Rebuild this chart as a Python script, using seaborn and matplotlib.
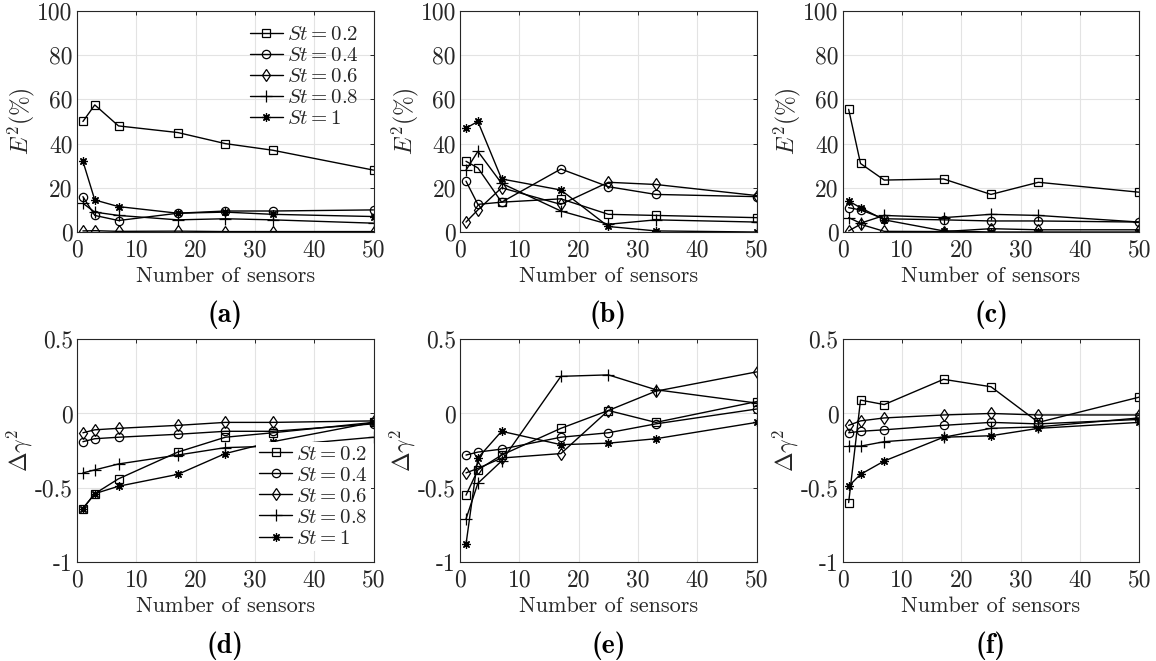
import matplotlib
matplotlib.use("Agg")
import matplotlib.pyplot as plt
import seaborn as sns
from matplotlib.ticker import FuncFormatter

# number of sensors
sensors = [1, 3, 7, 17, 25, 33, 50]
st_labels = ["0.2", "0.4", "0.6", "0.8", "1"]

# E^2 (%) -- panels (a), (b), (c)
e2_a_02 = [50, 57.5, 48, 45, 40, 37, 28]
e2_a_04 = [16, 7.5, 5.2, 8.5, 9.5, 9.5, 10]
e2_a_06 = [0.5, 0.6, 0.3, 0.4, 0.2, 0.2, 0.2]
e2_a_08 = [13, 9, 7.5, 5.5, 6, 5.5, 4]
e2_a_10 = [32, 14.5, 11.5, 8.5, 9, 8, 7]

e2_b_02 = [32, 29, 13.5, 15, 8, 7.5, 6.5]
e2_b_04 = [23, 12.5, 13.5, 28.5, 20.5, 17, 16]
e2_b_06 = [4.5, 10, 20, 12.5, 22.5, 21.5, 16.5]
e2_b_08 = [28, 36.5, 22, 9.5, 3.5, 5.5, 4.5]
e2_b_10 = [47, 50, 24, 19, 2.5, 0.5, 0]

e2_c_02 = [55.5, 31, 23.5, 24, 17, 22.5, 18]
e2_c_04 = [11, 10, 6, 5.5, 5, 5, 4.5]
e2_c_06 = [0.5, 3.5, 0.3, 0.2, 1.5, 1, 1]
e2_c_08 = [6.5, 4, 7.5, 6.5, 8, 7.5, 4.5]
e2_c_10 = [14, 11, 5.5, 0.5, 0, 0, 0]

# delta gamma^2 -- panels (d), (e), (f)
dg_d_02 = [-0.64, -0.54, -0.44, -0.26, -0.16, -0.13, -0.06]
dg_d_04 = [-0.19, -0.17, -0.16, -0.14, -0.12, -0.12, -0.07]
dg_d_06 = [-0.13, -0.11, -0.10, -0.08, -0.06, -0.06, -0.05]
dg_d_08 = [-0.40, -0.38, -0.34, -0.28, -0.23, -0.22, -0.16]
dg_d_10 = [-0.64, -0.54, -0.49, -0.41, -0.27, -0.19, -0.06]

dg_e_02 = [-0.55, -0.38, -0.28, -0.10, 0.02, -0.06, 0.08]
dg_e_04 = [-0.28, -0.26, -0.24, -0.16, -0.13, -0.07, 0.03]
dg_e_06 = [-0.40, -0.37, -0.30, -0.27, 0.02, 0.15, 0.28]
dg_e_08 = [-0.71, -0.47, -0.32, 0.25, 0.26, 0.16, 0.07]
dg_e_10 = [-0.88, -0.30, -0.12, -0.21, -0.20, -0.17, -0.06]

dg_f_02 = [-0.60, 0.09, 0.06, 0.23, 0.18, -0.06, 0.11]
dg_f_04 = [-0.13, -0.12, -0.11, -0.08, -0.06, -0.07, -0.04]
dg_f_06 = [-0.08, -0.05, -0.03, -0.01, 0.0, -0.01, -0.01]
dg_f_08 = [-0.22, -0.22, -0.19, -0.16, -0.10, -0.09, -0.03]
dg_f_10 = [-0.49, -0.41, -0.32, -0.16, -0.15, -0.10, -0.06]

panels = [
    ("(a)", [e2_a_02, e2_a_04, e2_a_06, e2_a_08, e2_a_10]),
    ("(b)", [e2_b_02, e2_b_04, e2_b_06, e2_b_08, e2_b_10]),
    ("(c)", [e2_c_02, e2_c_04, e2_c_06, e2_c_08, e2_c_10]),
    ("(d)", [dg_d_02, dg_d_04, dg_d_06, dg_d_08, dg_d_10]),
    ("(e)", [dg_e_02, dg_e_04, dg_e_06, dg_e_08, dg_e_10]),
    ("(f)", [dg_f_02, dg_f_04, dg_f_06, dg_f_08, dg_f_10]),
]

markers = ["s", "o", "d", "+", (8, 2, 0)]

sns.set_style("white")
plt.rcParams["mathtext.fontset"] = "cm"
plt.rcParams["font.family"] = ["cmr10", "DejaVu Serif"]
plt.rcParams["axes.unicode_minus"] = False

txt = "#262626"
fig = plt.figure(figsize=(11.56, 6.61), dpi=100)

lefts = [0.0666, 0.398, 0.729]
w = 0.2565
rows = [(0.649, 0.3344), (0.1498, 0.337)]

# plain hyphen for negatives, like the original
tick_fmt = FuncFormatter(lambda v, p: f"{v:g}")

for i, (name, series) in enumerate(panels):
    r, c = divmod(i, 3)
    ax = fig.add_axes([lefts[c], rows[r][0], w, rows[r][1]])
    for vals, m, lab in zip(series, markers, st_labels):
        sns.lineplot(x=sensors, y=vals, ax=ax, color="k", lw=1.0,
                     marker=m, markersize=6 if m != "+" else 8,
                     mfc="none", mec="k", mew=0.9,
                     label=rf"$St = {lab}$", legend=False)
    ax.set_xlim(0, 50)
    ax.set_xticks(range(0, 51, 10))
    if r == 0:
        ax.set_ylim(0, 100)
        ax.set_yticks(range(0, 101, 20))
        ax.set_ylabel(r"$E^2(\%)$", fontsize=17, color=txt, labelpad=0)
    else:
        ax.set_ylim(-1, 0.5)
        ax.set_yticks([-1, -0.5, 0, 0.5])
        ax.set_ylabel(r"$\Delta\gamma^2$", fontsize=17, color=txt, labelpad=0)
    ax.xaxis.set_major_formatter(tick_fmt)
    ax.yaxis.set_major_formatter(tick_fmt)
    ax.set_xlabel("Number of sensors", fontsize=16, color=txt, labelpad=4)
    ax.grid(True, color="#e3e3e3", lw=0.8)
    ax.set_axisbelow(True)
    ax.tick_params(direction="in", length=3, width=0.7, colors=txt,
                   labelsize=17, top=True, right=True, pad=5)
    ax.tick_params(axis="y", pad=3)
    for sp in ax.spines.values():
        sp.set_color(txt)
        sp.set_linewidth(0.8)
    ax.text(0.5, -0.375, name, transform=ax.transAxes, family="cmb10",
            ha="center", va="center", fontsize=20, color="k")
    if i == 0:
        ax.legend(loc="upper right", fontsize=15, frameon=False,
                  handlelength=1.6, handletextpad=0.2, labelspacing=0.12,
                  borderaxespad=0.3)
    elif i == 3:
        ax.legend(loc="lower right", bbox_to_anchor=(1.0, 0.04),
                  fontsize=15, frameon=True, facecolor="white",
                  edgecolor="none", framealpha=1, fancybox=False,
                  handlelength=1.6, handletextpad=0.2,
                  labelspacing=0.12, borderaxespad=0.1, borderpad=0.15)

fig.savefig("out.png", dpi=100)
